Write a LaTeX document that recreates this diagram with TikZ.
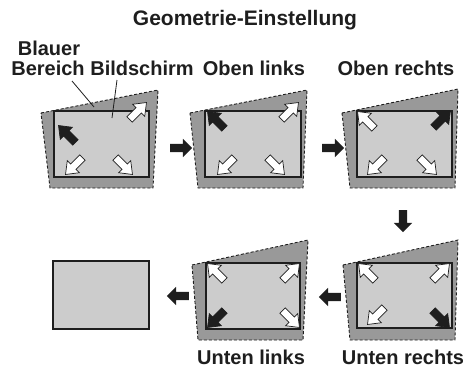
\documentclass[tikz,border=0pt]{standalone}
\usepackage{fontspec}
\setmainfont{Liberation Sans}
\usetikzlibrary{shapes.arrows}
\definecolor{bluearea}{RGB}{153,153,153}
\definecolor{screenfill}{RGB}{204,204,204}
\definecolor{inkline}{RGB}{30,30,30}

\begin{document}
\begin{tikzpicture}[x=1pt,y=-1pt,
  lbl/.style={font=\fontsize{20}{18}\selectfont\bfseries,text=inkline,inner sep=0pt,anchor=base},
  zone/.style={fill=bluearea,draw=inkline,line width=0.9pt,dash pattern=on 3pt off 2pt},
  screen/.style={fill=screenfill,draw=inkline,line width=1.1pt},
  leader/.style={draw=inkline,line width=0.8pt},
  nextstep/.style={single arrow,fill=inkline,inner sep=4pt,minimum height=22pt,
    single arrow head extend=5pt},
  adjarrow/.pic={\filldraw[fill=#1,draw=inkline,line width=0.7pt]
    (-12,-3.8) -- (1,-3.8) -- (1,-8.5) -- (12,0) -- (1,8.5) -- (1,3.8) -- (-12,3.8) -- cycle;}]
  \useasboundingbox (0,0) rectangle (475,367);
  % labels
  \node[lbl,font=\fontsize{21}{18}\selectfont\bfseries] (title) at (245,25) {Geometrie-Einstellung};
  \node[lbl] (lblblauer) at (49,55) {Blauer};
  \node[lbl] (lblbereich) at (48,75) {Bereich};
  \node[lbl] (lblscreen) at (142,75) {Bildschirm};
  \node[lbl] (lblul) at (254,75) {Oben links};
  \node[lbl] (lblur) at (396,75) {Oben rechts};
  \node[lbl] (lblll) at (251,364) {Unten links};
  \node[lbl] (lbllr) at (403,364) {Unten rechts};
  % panel 1: overview
  \filldraw[zone] (41,113) -- (158,90) -- (153,188) -- (50,188) -- cycle;
  \filldraw[screen] (54,111) rectangle (149,177);
  \path (67,134) pic[rotate=135]{adjarrow=inkline};
  \path (138,111) pic[rotate=45]{adjarrow=white};
  \path (74,166) pic[rotate=225]{adjarrow=white};
  \path (124,166) pic[rotate=315]{adjarrow=white};
  % leaders
  \coordinate (bbfrom) at (72,81);
  \coordinate (bbto) at (94,107);
  \coordinate (bsfrom) at (117,80);
  \coordinate (bsto) at (112,118);
  \draw[leader] (bbfrom) -- (bbto);
  \draw[leader] (bsfrom) -- (bsto);
  % panel 2: top left
  \filldraw[zone] (190,113) -- (307,90) -- (303,188) -- (198,188) -- cycle;
  \filldraw[screen] (205,111) rectangle (301,177);
  \path (216,120) pic[rotate=135]{adjarrow=inkline};
  \path (290,111) pic[rotate=45]{adjarrow=white};
  \path (226,166) pic[rotate=225]{adjarrow=white};
  \path (276,166) pic[rotate=315]{adjarrow=white};
  % panel 3: top right
  \filldraw[zone] (342,113) -- (458,89) -- (455,188) -- (350,188) -- cycle;
  \filldraw[screen] (357,111) rectangle (452,177);
  \path (366,120) pic[rotate=135]{adjarrow=white};
  \path (442,119) pic[rotate=45]{adjarrow=inkline};
  \path (376,166) pic[rotate=225]{adjarrow=white};
  \path (428,166) pic[rotate=315]{adjarrow=white};
  % panel 4: bottom right
  \filldraw[zone] (343,265) -- (458,240) -- (455,340) -- (350,340) -- cycle;
  \filldraw[screen] (357,263) rectangle (452,328);
  \path (367,272) pic[rotate=135]{adjarrow=white};
  \path (441,272) pic[rotate=45]{adjarrow=white};
  \path (376,316) pic[rotate=225]{adjarrow=white};
  \path (441,319) pic[rotate=315]{adjarrow=inkline};
  % panel 5: bottom left
  \filldraw[zone] (192,265) -- (308,240) -- (303,340) -- (198,340) -- cycle;
  \filldraw[screen] (206,263) rectangle (300,329);
  \path (216,272) pic[rotate=135]{adjarrow=white};
  \path (291,272) pic[rotate=45]{adjarrow=white};
  \path (216,319) pic[rotate=225]{adjarrow=inkline};
  \path (291,319) pic[rotate=315]{adjarrow=white};
  % panel 6: result
  \filldraw[screen] (53,261) rectangle (149,329);
  % step arrows
  \node[nextstep] (go12) at (179,148) {};
  \node[nextstep] (go23) at (331,148) {};
  \node[nextstep,rotate=-90] (go34) at (403,219) {};
  \node[nextstep,rotate=180] (go45) at (332,297) {};
  \node[nextstep,rotate=180] (go56) at (180,296) {};
\end{tikzpicture}
\end{document}
